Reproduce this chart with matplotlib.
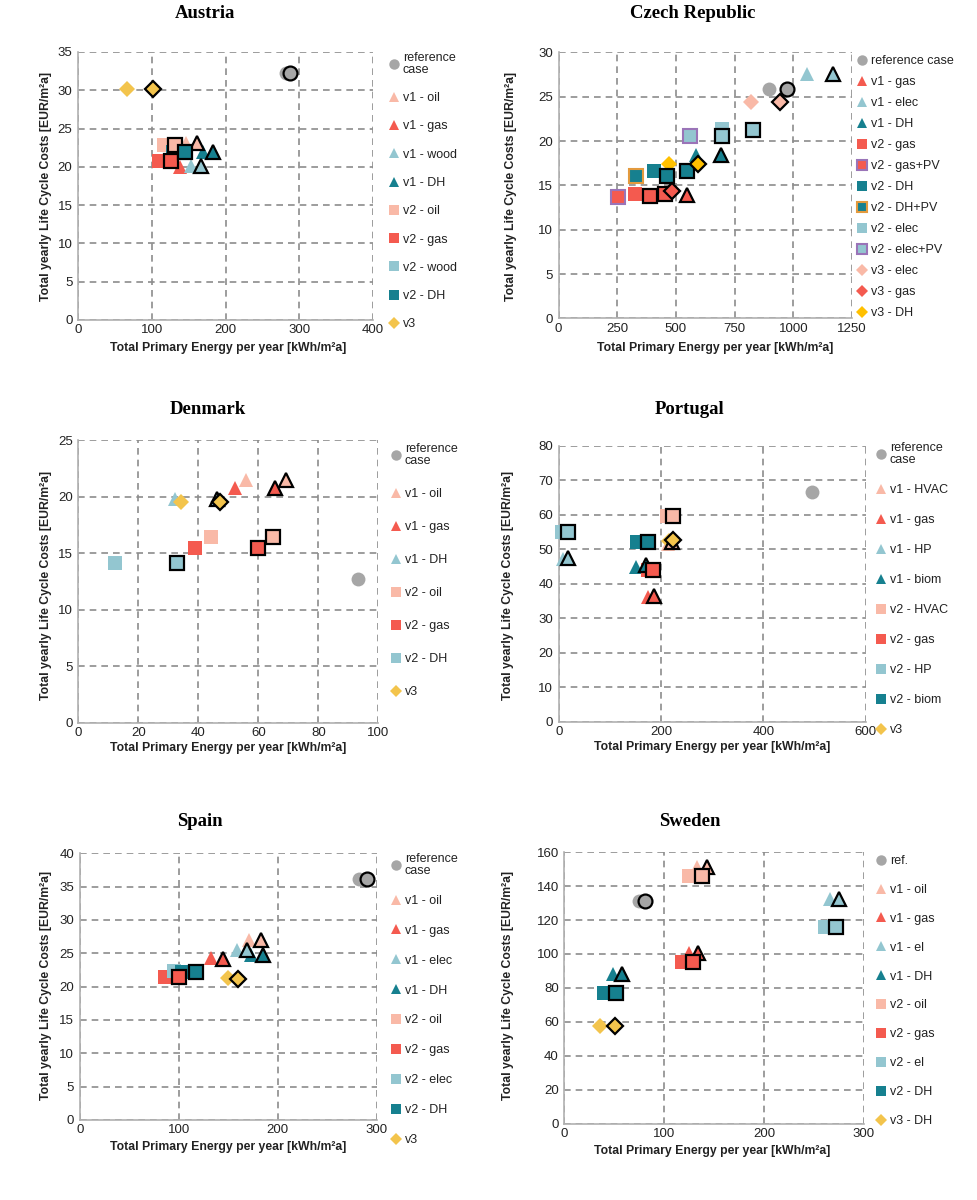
import numpy as np
import matplotlib
matplotlib.use("Agg")
import matplotlib.pyplot as plt

nan = np.nan

# colours used by the original workbook
GREY = "#a6a6a6"
SALMON = "#f9b9a7"
RED = "#f45a4f"
LBLUE = "#93c6d0"
TEAL = "#16808f"
GOLD = "#f3c44c"
GOLD2 = "#ffc000"
PURPLE = "#9a74b8"
ORANGE = "#e39a3e"

# AUSTRIA
#==============================================================================
at_labels = ["reference\ncase", "v1 - oil", "v1 - gas", "v1 - wood", "v1 - DH",
             "v2 - oil", "v2 - gas", "v2 - wood", "v2 - DH", "v3"]
at_x  = [282, 147, 138, 153, 169, 116, 110, nan, 129, 66]
at_y  = [32.2, 23.1, 20.0, 20.1, 21.9, 22.8, 20.7, nan, 21.9, 30.2]
at_xe = [287, 162, nan, 167, 183, 131.5, 126, nan, 145, 102]
at_ye = [32.2, 23.1, nan, 20.1, 21.9, 22.8, 20.7, nan, 21.9, 30.2]
at_colors  = [GREY, SALMON, RED, LBLUE, TEAL, SALMON, RED, LBLUE, TEAL, GOLD]
at_markers = ["o", "^", "^", "^", "^", "s", "s", "s", "s", "D"]

# CZECH REPUBLIC
#==============================================================================
cz_labels = ["reference case", "v1 - gas", "v1 - elec", "v1 - DH", "v2 - gas",
             "v2 - gas+PV", "v2 - DH", "v2 - DH+PV", "v2 - elec", "v2 - elec+PV",
             "v3 - elec", "v3 - gas", "v3 - DH"]
cz_x  = [896, nan, 1057, 584, 326, 252, 408, 328, 695, 560, 820, nan, 472]
cz_y  = [25.9, nan, 27.6, 18.4, 14.0, 13.7, 16.6, 16.0, 21.3, 20.6, 24.4, nan, 17.4]
cz_xe = [973, 546, 1170, 691, 453, 389, 546, 463, 830, 695, 943, 484, 595]
cz_ye = [25.9, 13.9, 27.6, 18.4, 14.0, 13.8, 16.6, 16.0, 21.2, 20.6, 24.4, 14.4, 17.4]
cz_colors  = [GREY, RED, LBLUE, TEAL, RED, RED, TEAL, TEAL, LBLUE, LBLUE, SALMON, RED, GOLD2]
cz_edges   = [None, None, None, None, None, PURPLE, None, ORANGE, None, PURPLE, None, None, None]
cz_markers = ["o", "^", "^", "^", "s", "s", "s", "s", "s", "s", "D", "D", "D"]

# DENMARK
#==============================================================================
dk_labels = ["reference\ncase", "v1 - oil", "v1 - gas", "v1 - DH",
             "v2 - oil", "v2 - gas", "v2 - DH", "v3"]
dk_x  = [93.3, 55.8, 52.2, 32.2, 44.1, 38.9, 12.2, 34.1]
dk_y  = [12.7, 21.5, 20.8, 19.8, 16.4, 15.5, 14.1, 19.5]
dk_xe = [nan, 69.2, 65.6, 46.1, 64.8, 60.0, 32.8, 47.2]
dk_ye = [nan, 21.5, 20.8, 19.8, 16.4, 15.5, 14.1, 19.5]
dk_colors  = [GREY, SALMON, RED, LBLUE, SALMON, RED, LBLUE, GOLD]
dk_markers = ["o", "^", "^", "^", "s", "s", "s", "D"]

# PORTUGAL
#==============================================================================
pt_labels = ["reference\ncase", "v1 - HVAC", "v1 - gas", "v1 - HP", "v1 - biom",
             "v2 - HVAC", "v2 - gas", "v2 - HP", "v2 - biom", "v3"]
pt_x  = [495, 213, 175, 9, 152, 211, 175, 6, 154, 216]
pt_y  = [66.5, 51.5, 36.2, 47.1, 45.0, 59.6, 44.0, 55.0, 52.2, 52.5]
pt_xe = [nan, 222, 187, 19, 171, 224, 185, 19, 175, 224]
pt_ye = [nan, 52.0, 36.4, 47.6, 45.5, 59.6, 44.0, 55.0, 52.2, 52.7]
pt_colors  = [GREY, SALMON, RED, LBLUE, TEAL, SALMON, RED, LBLUE, TEAL, GOLD]
pt_markers = ["o", "^", "^", "^", "^", "s", "s", "s", "s", "D"]

# SPAIN
#==============================================================================
es_labels = ["reference\ncase", "v1 - oil", "v1 - gas", "v1 - elec", "v1 - DH",
             "v2 - oil", "v2 - gas", "v2 - elec", "v2 - DH", "v3"]
es_x  = [282, 171.5, 133, 158.7, 173, nan, 86, 95, 103, 150]
es_y  = [36.2, 27.0, 24.25, 25.5, 24.7, nan, 21.5, 22.3, 22.2, 21.3]
es_xe = [290.6, 183, 144.6, 169, 185.6, nan, 100, nan, 117, 160]
es_ye = [36.2, 27.0, 24.1, 25.5, 24.7, nan, 21.5, nan, 22.2, 21.2]
es_colors  = [GREY, SALMON, RED, LBLUE, TEAL, SALMON, RED, LBLUE, TEAL, GOLD]
es_markers = ["o", "^", "^", "^", "^", "s", "s", "s", "s", "D"]

# SWEDEN
#==============================================================================
se_labels = ["ref.", "v1 - oil", "v1 - gas", "v1 - el", "v1 - DH",
             "v2 - oil", "v2 - gas", "v2 - el", "v2 - DH", "v3 - DH"]
se_x  = [75, 132.4, 125, 265.7, 48.4, 125, 117.4, 260.7, 40, 35.7]
se_y  = [131.3, 151.5, 100.8, 132.3, 88.2, 146, 95.1, 116, 76.8, 57.7]
se_xe = [80.7, 142.4, 133.4, 275, 57.4, 137.4, 129, 271.7, 51.7, 50.7]
se_ye = [131.3, 151.5, 100.8, 132.3, 88.2, 146, 95.1, 116, 76.8, 57.7]
se_colors  = [GREY, SALMON, RED, LBLUE, TEAL, SALMON, RED, LBLUE, TEAL, GOLD]
se_markers = ["o", "^", "^", "^", "^", "s", "s", "s", "s", "D"]


W, H = 977, 1200
fig = plt.figure(figsize=(W / 100, H / 100), dpi=100)

SANS = "Liberation Sans"
SERIF = "Liberation Serif"


def px_axes(left, right, top, bottom):
    return fig.add_axes([left / W, 1 - bottom / H, (right - left) / W, (bottom - top) / H])


def size_for(m):
    return 8 if m == "D" else 10


def panel(box, title, title_xy, xlab_xy, ylab_xy, leg_xy, spacing,
          labels, x, y, xe, ye, colors, markers, xlim, xstep, ylim, ystep, edges=None):
    ax = px_axes(*box)
    if edges is None:
        edges = [None] * len(labels)

    # plain points (these carry the legend entries)
    for i, lab in enumerate(labels):
        ec = edges[i] if edges[i] else colors[i]
        ax.plot([x[i]], [y[i]], ls="none", marker=markers[i], ms=size_for(markers[i]),
                mfc=colors[i], mec=ec, mew=1.5 if edges[i] else 0, label=lab,
                zorder=3, clip_on=False)
    # black-edged points
    for i in range(len(labels)):
        ax.plot([xe[i]], [ye[i]], ls="none", marker=markers[i], ms=size_for(markers[i]),
                mfc=colors[i], mec="black", mew=1.6, zorder=4, clip_on=False)

    ax.set_xlim(*xlim)
    ax.set_ylim(*ylim)
    ax.set_xticks(np.arange(xlim[0], xlim[1] + 0.1, xstep))
    ax.set_yticks(np.arange(ylim[0], ylim[1] + 0.1, ystep))
    ax.grid(True, ls=(0, (4, 3)), color="#8c8c8c", lw=1.2, zorder=0)
    for s in ["top", "right"]:
        ax.spines[s].set_visible(False)
    for s in ["left", "bottom"]:
        ax.spines[s].set_color("#b0b0b0")
        ax.spines[s].set_linewidth(1.2)
    ax.tick_params(length=0, pad=4, labelsize=9.5, labelcolor="#222222")
    ax.tick_params(axis="x", pad=3)
    for t in ax.get_xticklabels() + ax.get_yticklabels():
        t.set_fontfamily(SANS)

    fig.text(title_xy[0] / W, 1 - title_xy[1] / H, title, ha="center", va="center",
             fontsize=13.5, fontweight="bold", family=SERIF)
    fig.text(xlab_xy[0] / W, 1 - xlab_xy[1] / H, "Total Primary Energy per year [kWh/m²a]",
             ha="center", va="center", fontsize=8.8, fontweight="bold", family=SANS,
             color="#222222")
    fig.text(ylab_xy[0] / W, 1 - ylab_xy[1] / H, "Total yearly Life Cycle Costs [EUR/m²a]",
             ha="center", va="center", rotation=90, fontsize=8.8, fontweight="bold",
             family=SANS, color="#222222")

    leg = ax.legend(loc="upper left", bbox_to_anchor=(leg_xy[0] / W, 1 - leg_xy[1] / H),
                    bbox_transform=fig.transFigure, frameon=False, borderpad=0,
                    borderaxespad=0, handlelength=0.8, handletextpad=0.3,
                    labelspacing=spacing, markerscale=0.75,
                    prop={"family": SANS, "size": 9})
    for t in leg.get_texts():
        t.set_color("#222222")
        t.set_linespacing(1.0)
    return ax


panel((78, 373, 52, 320), "Austria", (205, 13), (228, 348), (46, 186), (389, 52), 1.3,
      at_labels, at_x, at_y, at_xe, at_ye, at_colors, at_markers, (0, 400), 100, (0, 35), 5)

panel((558.6, 852, 52.3, 318.4), "Czech Republic", (693, 13), (715, 348), (511, 186),
      (857, 55), 0.72,
      cz_labels, cz_x, cz_y, cz_xe, cz_ye, cz_colors, cz_markers, (0, 1250), 250, (0, 30), 5,
      edges=cz_edges)

panel((78.3, 378.3, 440.2, 722.7), "Denmark", (208, 410), (228, 748), (46, 585), (391, 443), 1.68,
      dk_labels, dk_x, dk_y, dk_xe, dk_ye, dk_colors, dk_markers, (0, 100), 20, (0, 25), 5)

panel((558.7, 865.7, 445.8, 721.8), "Portugal", (690, 410), (712, 747), (508, 585), (876, 442), 1.44,
      pt_labels, pt_x, pt_y, pt_xe, pt_ye, pt_colors, pt_markers, (0, 600), 200, (0, 80), 10)

panel((79.7, 376.7, 853.3, 1120), "Spain", (200, 822), (228, 1147), (46, 985), (391, 853), 1.43,
      es_labels, es_x, es_y, es_xe, es_ye, es_colors, es_markers, (0, 300), 100, (0, 40), 5)

panel((564.3, 864, 852.3, 1123.5), "Sweden", (690, 822), (712, 1151), (508, 985), (876, 855), 1.35,
      se_labels, se_x, se_y, se_xe, se_ye, se_colors, se_markers, (0, 300), 100, (0, 160), 20)

fig.savefig("out.png", dpi=100, facecolor="white")
